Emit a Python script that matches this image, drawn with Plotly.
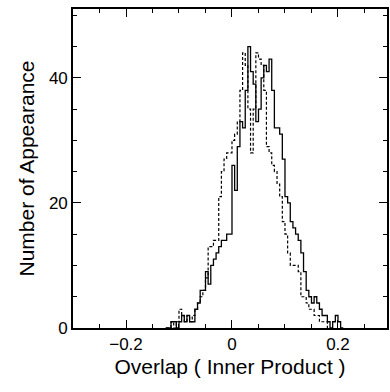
import plotly.graph_objects as go

# Bin left edges: -0.125 .. step 0.005
bin_start = -0.125
bin_width = 0.005

solid_counts = [0, 0, 1, 1, 0, 1, 2, 1, 2, 1, 1, 3, 4, 6, 6, 9, 7, 10, 11, 12,
                13, 14, 14, 15, 15, 26, 22, 29, 33, 32, 38, 45, 41, 39, 33, 35, 40, 42, 41, 43,
                38, 32, 32, 31, 27, 21, 20, 17, 16, 15, 14, 12, 9, 6, 5, 4, 5, 4, 3, 2,
                2, 1, 0, 1, 2, 1, 0]

dashed_counts = [0, 0, 1, 0, 1, 3, 2, 1, 2, 1, 2, 3, 4, 5, 6, 8, 13, 13, 14, 14,
                 21, 25, 27, 28, 28, 30, 31, 33, 38, 44, 42, 35, 28, 35, 44, 43, 42, 38, 29, 28,
                 26, 25, 23, 21, 17, 15, 12, 10, 10, 10, 9, 5, 5, 4, 3, 3, 2, 2, 1, 1,
                 1, 0]

x_ticks = [-0.2, 0, 0.2]
x_tick_labels = ["\u22120.2", "0", "0.2"]
y_ticks = [0, 20, 40]


def step_xy(counts):
    n = len(counts)
    edges = [round(bin_start + i * bin_width, 6) for i in range(n + 1)]
    ys = list(counts) + [counts[-1]]
    return edges, ys


fig = go.Figure()
sx, sy = step_xy(solid_counts)
dx, dy = step_xy(dashed_counts)
fig.add_trace(go.Scatter(x=dx, y=dy, mode="lines", line_shape="hv",
                         line=dict(color="black", width=1.2, dash="3px,2px"),
                         showlegend=False))
fig.add_trace(go.Scatter(x=sx, y=sy, mode="lines", line_shape="hv",
                         line=dict(color="black", width=1.3),
                         showlegend=False))

font = "Liberation Sans, Arial, Helvetica, sans-serif"
fig.update_layout(
    width=390, height=392,
    margin=dict(l=73, r=1, t=9, b=64),
    plot_bgcolor="white", paper_bgcolor="white",
    font=dict(family=font, color="black", size=17),
)
fig.update_xaxes(
    range=[-0.3, 0.2925], showgrid=False, zeroline=False,
    showline=True, linecolor="black", linewidth=1.6, mirror="ticks",
    ticks="inside", ticklen=8, tickwidth=1.2, tickcolor="black",
    tickvals=x_ticks, ticktext=x_tick_labels, tickfont=dict(size=17),
    minor=dict(dtick=0.05, tick0=0, ticks="inside", ticklen=4, tickwidth=1, tickcolor="black"),
    title=dict(text="Overlap ( Inner Product )", font=dict(size=21), standoff=6),
)
fig.update_yaxes(
    range=[0, 51], showgrid=False, zeroline=False,
    showline=True, linecolor="black", linewidth=1.6, mirror="ticks",
    ticks="inside", ticklen=8, tickwidth=1.2, tickcolor="black",
    tickvals=y_ticks, tickfont=dict(size=17),
    minor=dict(dtick=5, tick0=0, ticks="inside", ticklen=4, tickwidth=1, tickcolor="black"),
    title=dict(text="Number of Appearance", font=dict(size=21), standoff=9),
)

fig.write_html("out.html")
